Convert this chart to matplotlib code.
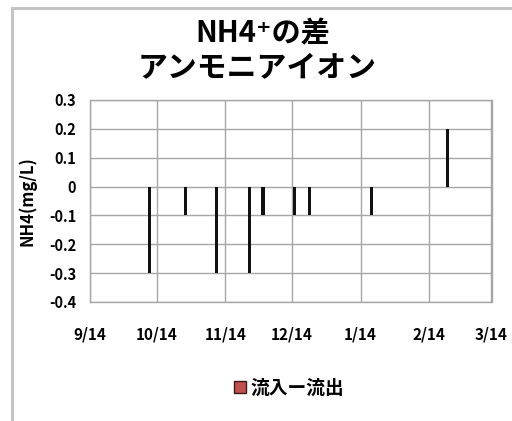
import matplotlib
matplotlib.use("Agg")
import matplotlib.pyplot as plt
from matplotlib.lines import Line2D
from matplotlib.patches import Patch
from datetime import datetime

plt.rcParams['font.family'] = ['Noto Sans CJK JP', 'DejaVu Sans']

# Sampling dates and inflow-minus-outflow difference of NH4 (mg/L)
dates = ["2013-10-11", "2013-10-27", "2013-11-10", "2013-11-25", "2013-12-01",
         "2013-12-15", "2013-12-22", "2014-01-19", "2014-02-22"]
diff = [-0.3, -0.1, -0.3, -0.3, -0.1, -0.1, -0.1, -0.1, 0.2]

tick_dates = ["2013-09-14", "2013-10-14", "2013-11-14", "2013-12-14",
              "2014-01-14", "2014-02-14", "2014-03-14"]
tick_labels = ["9/14", "10/14", "11/14", "12/14", "1/14", "2/14", "3/14"]
y_ticks = [0.3, 0.2, 0.1, 0, -0.1, -0.2, -0.3, -0.4]
y_labels = ["0.3", "0.2", "0.1", "0", "-0.1", "-0.2", "-0.3", "-0.4"]

series_name = "流入ー流出"
title_line1 = "NH4⁺の差"
title_line2 = "アンモニアイオン"
y_title = "NH4(mg/L)"

x = [datetime.strptime(d, "%Y-%m-%d") for d in dates]
xt = [datetime.strptime(d, "%Y-%m-%d") for d in tick_dates]

fig = plt.figure(figsize=(5.12, 4.21), dpi=100)
ax = fig.add_axes([90 / 512, 1 - 302 / 421, 401.5 / 512, 202 / 421])

# narrow columns on a date axis
ax.bar(x, diff, width=1.4, color="#111111", linewidth=0, zorder=3)

ax.set_xlim(xt[0], xt[-1])
ax.set_ylim(-0.4, 0.3)
ax.set_xticks(xt)
ax.set_xticklabels(tick_labels, fontsize=11, fontweight="bold")
ax.set_yticks(y_ticks)
ax.set_yticklabels(y_labels, fontsize=10.5, fontweight="bold")
ax.tick_params(axis="x", length=0, pad=18)
ax.tick_params(axis="y", length=0, pad=10)

ax.grid(True, color="#a6a6a6", linewidth=1.0, zorder=0)
for s in ax.spines.values():
    s.set_color("#a6a6a6")
    s.set_linewidth(1.0)

ax.set_ylabel(y_title, fontsize=12, fontweight="bold")
ax.yaxis.set_label_coords(-53 / 401.5, 0.5)

fig.text(263 / 512, 1 - 33 / 421, title_line1, fontsize=21, fontweight="bold",
         ha="center", va="center")
fig.text(257 / 512, 1 - 68 / 421, title_line2, fontsize=21.5, fontweight="bold",
         ha="center", va="center")

handle = Patch(facecolor="#c0504d", edgecolor="#3a1a1a", linewidth=1.0)
fig.legend([handle], [series_name], loc="center",
           bbox_to_anchor=(289 / 512, 1 - 388 / 421),
           frameon=False, prop={"size": 13.5, "weight": "bold"},
           handlelength=0.65, handleheight=0.65, handletextpad=0.25)

# outer chart frame
fx = 11.5 / 512
fy = 1 - 8 / 421
fig.add_artist(Line2D([fx, fx], [0, fy], transform=fig.transFigure,
                      color="#c4c4c4", linewidth=2.2))
fig.add_artist(Line2D([fx, 1], [fy, fy], transform=fig.transFigure,
                      color="#c4c4c4", linewidth=2.2))

fig.savefig("out.png", dpi=100)
